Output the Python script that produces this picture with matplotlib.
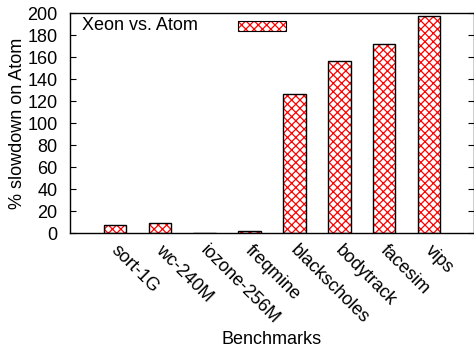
import matplotlib.pyplot as plt
import numpy as np
from matplotlib.patches import Rectangle

plt.rcParams['font.family'] = ['Liberation Sans', 'DejaVu Sans']
plt.rcParams['hatch.linewidth'] = 0.9

benchmarks = ["sort-1G", "wc-240M", "iozone-256M", "freqmine",
              "blackscholes", "bodytrack", "facesim", "vips"]
slowdown = [7, 9, 0.3, 1.5, 126, 156, 172, 197]

fig = plt.figure(figsize=(4.74, 3.5), dpi=100)
ax = fig.add_axes([70 / 474, 1 - 233 / 350, 404 / 474, 220 / 350])

x = np.arange(len(benchmarks))
# red cross-hatch fill, black outline drawn separately
ax.bar(x, slowdown, width=0.5, color="white", edgecolor="red",
       hatch="xxxx", linewidth=0)
ax.bar(x, slowdown, width=0.5, fill=False, edgecolor="black", linewidth=1)

ax.set_xlim(-1, 8)
ax.set_ylim(0, 200)
ax.set_yticks(range(0, 201, 20))
ax.set_xticks(x)
ax.set_xticklabels([])
ax.tick_params(axis="x", length=0)
ax.tick_params(axis="y", direction="in", right=True, length=4,
               labelsize=13, pad=9)

for xi, name in zip(x, benchmarks):
    ax.text(xi + 0.1, -8, name, rotation=-45, rotation_mode="anchor",
            ha="left", va="top", fontsize=13)

ax.set_ylabel("% slowdown on Atom", fontsize=13, labelpad=1)
fig.text(272 / 474, 1 - 339 / 350, "Benchmarks", ha="center", va="center",
         fontsize=13)

# gnuplot-style key: text then sample
ax.text(0.03, 0.945, "Xeon vs. Atom", transform=ax.transAxes,
        ha="left", va="center", fontsize=13)
ax.add_patch(Rectangle((0.415, 0.92), 0.12, 0.045, transform=ax.transAxes,
                       facecolor="white", edgecolor="red", hatch="xxxx",
                       linewidth=0))
ax.add_patch(Rectangle((0.415, 0.92), 0.12, 0.045, transform=ax.transAxes,
                       fill=False, edgecolor="black", linewidth=0.8))

for s in ax.spines.values():
    s.set_linewidth(1)

fig.savefig("out.png", dpi=100)
